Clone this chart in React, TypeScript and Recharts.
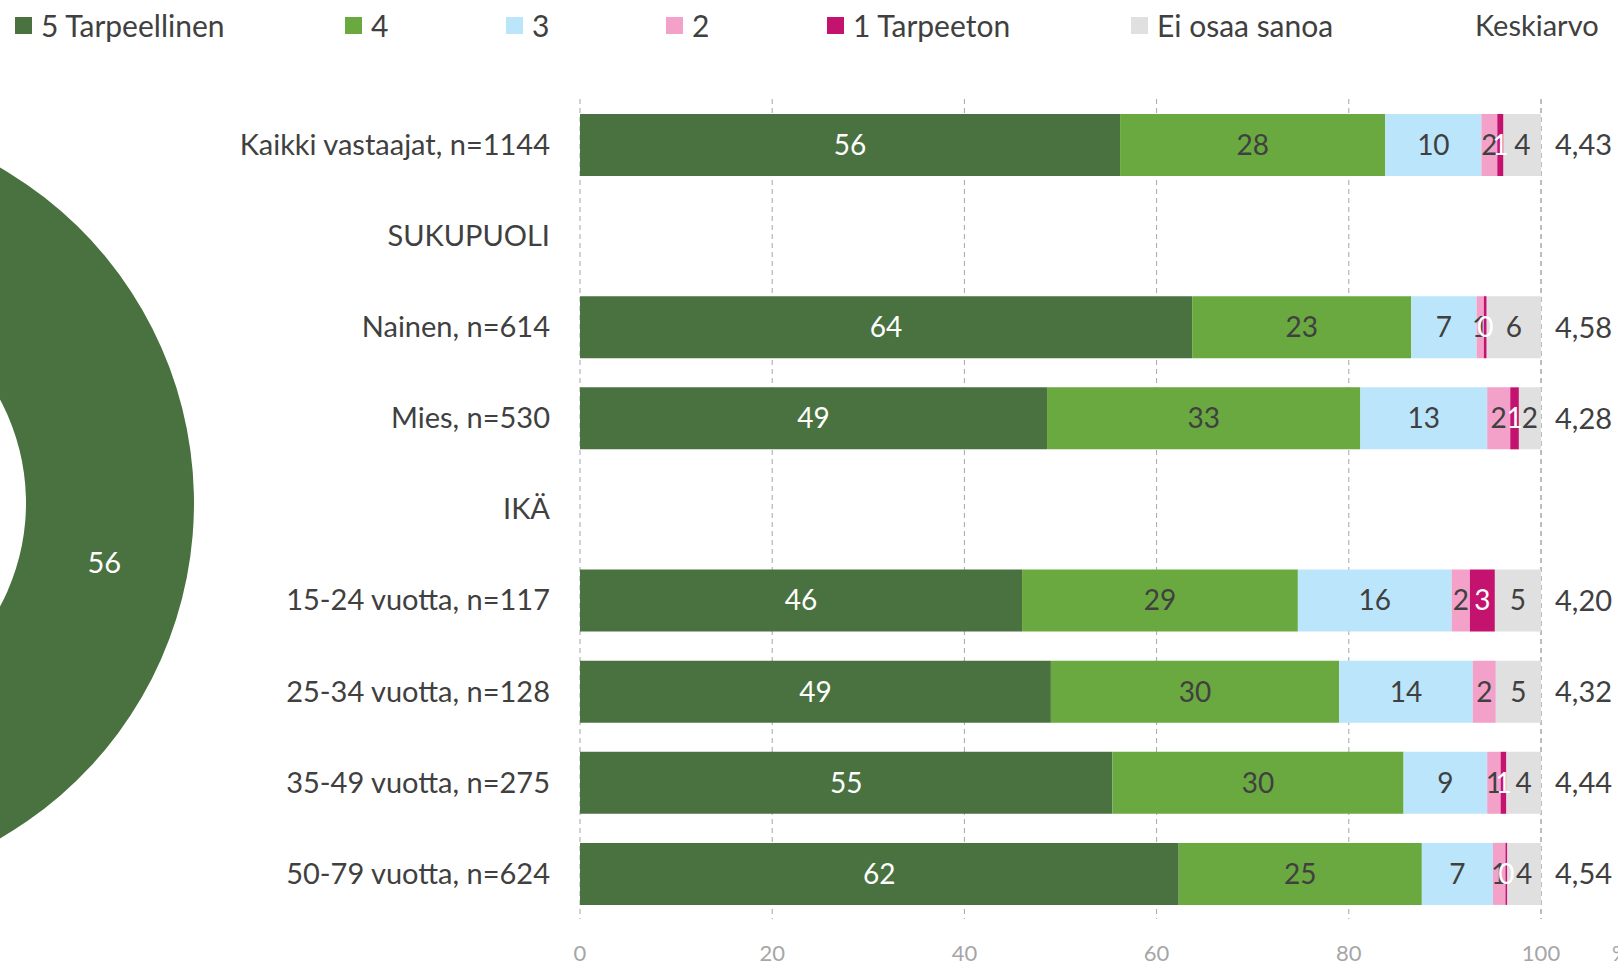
import {
  Bar,
  BarChart,
  CartesianGrid,
  Label,
  LabelList,
  Pie,
  PieChart,
  Cell,
  XAxis,
  YAxis,
} from "recharts";

const categories = [
  "Kaikki vastaajat, n=1144",
  "SUKUPUOLI",
  "Nainen, n=614",
  "Mies, n=530",
  "IKÄ",
  "15-24 vuotta, n=117",
  "25-34 vuotta, n=128",
  "35-49 vuotta, n=275",
  "50-79 vuotta, n=624",
];

// % shares (labels show them rounded)
const tarpeellinen = [56.2, null, 63.7, 48.6, null, 46.0, 49.0, 55.4, 62.3];
const nelja = [27.6, null, 22.8, 32.6, null, 28.7, 30.0, 30.3, 25.3];
const kolme = [10.0, null, 6.8, 13.2, null, 16.0, 13.9, 8.7, 7.4];
const kaksi = [1.65, null, 0.75, 2.4, null, 1.9, 2.4, 1.4, 1.3];
const tarpeeton = [0.65, null, 0.3, 0.9, null, 2.6, 0, 0.6, 0.2];
const eos = [3.9, null, 5.65, 2.3, null, 4.8, 4.7, 3.6, 3.5];
const keskiarvo = [4.43, null, 4.58, 4.28, null, 4.2, 4.32, 4.44, 4.54];

const xTicks = [0, 20, 40, 60, 80, 100];

const seriesKeys = ["s5", "s4", "s3", "s2", "s1", "eos"];
const seriesNames = ["5 Tarpeellinen", "4", "3", "2", "1 Tarpeeton", "Ei osaa sanoa"];
const seriesColors = ["#4a7240", "#6aa93f", "#bbe5fa", "#f3a1c9", "#c4126f", "#e0e0e0"];
const labelColors = ["#ffffff", "#404040", "#404040", "#404040", "#ffffff", "#404040"];
const seriesValues = [tarpeellinen, nelja, kolme, kaksi, tarpeeton, eos];

const rows = categories.map((name, i) => {
  const row: Record<string, any> = { name, mean: keskiarvo[i] };
  seriesKeys.forEach((k, j) => {
    row[k] = seriesValues[j][i];
  });
  return row;
});

// donut = "Kaikki vastaajat" row
const pieData = seriesNames.map((name, j) => ({ name, value: seriesValues[j][0] as number }));

const TEXT = "#404040";
const FONT = "Lato, 'Open Sans', sans-serif";
const RADIAN = Math.PI / 180;

const fmtShare = (v: any) => (v === null || v === undefined || v === 0 ? "" : String(Math.round(v)));
const fmtMean = (v: any) => (v === null || v === undefined ? "" : Number(v).toFixed(2).replace(".", ","));

function renderPieLabel(props: any) {
  const { cx, cy, midAngle, innerRadius, outerRadius, value } = props;
  const r = (innerRadius + outerRadius) / 2;
  const x = cx + r * Math.cos(-midAngle * RADIAN);
  const y = cy + r * Math.sin(-midAngle * RADIAN);
  // slices left of the page edge are off-screen anyway
  if (x < 20) return <g />;
  return (
    <text x={x} y={y} fill="#ffffff" fontSize={29} textAnchor="middle" dominantBaseline="central">
      {Math.round(value)}
    </text>
  );
}

function renderPercent(props: any) {
  const vb = props.viewBox;
  return (
    <text x={vb.x + vb.width + 71} y={vb.y + 33} fill="#a6a6a6" fontSize={22} dominantBaseline="central">
      %
    </text>
  );
}

const legendLeft = [15, 345, 506, 666, 827, 1131];

export default function App() {
  return (
    <div style={{ position: "absolute", left: 0, top: 0, width: 1618, height: 966, fontFamily: FONT, background: "#fff" }}>
      {/* Half-visible donut on the left */}
      <div style={{ position: "absolute", left: 0, top: 0 }}>
        <PieChart width={1618} height={966} margin={{ top: 0, right: 0, bottom: 0, left: 0 }}>
          <Pie
            data={pieData}
            dataKey="value"
            cx={-193}
            cy={503}
            innerRadius={219}
            outerRadius={387}
            startAngle={90}
            endAngle={-270}
            stroke="none"
            label={renderPieLabel}
            labelLine={false}
            isAnimationActive={false}
          >
            {pieData.map((d, j) => (
              <Cell key={d.name} fill={seriesColors[j]} />
            ))}
          </Pie>
        </PieChart>
      </div>

      {/* Stacked bars */}
      <div style={{ position: "absolute", left: 0, top: 0 }}>
        <BarChart
          width={1618}
          height={966}
          data={rows}
          layout="vertical"
          margin={{ top: 99, right: 77, bottom: 0, left: 0 }}
        >
          <CartesianGrid horizontal={false} stroke="#a6a6a6" strokeDasharray="5 4" />
          <XAxis
            type="number"
            domain={[0, 100]}
            ticks={xTicks}
            height={47}
            axisLine={false}
            tickLine={false}
            tickMargin={20}
            tick={{ fill: "#a6a6a6", fontSize: 22 }}
          >
            <Label content={renderPercent} />
          </XAxis>
          <YAxis
            type="category"
            dataKey="name"
            width={580}
            axisLine={false}
            tickLine={false}
            tickSize={6}
            tickMargin={24}
            tick={{ fill: TEXT, fontSize: 29 }}
            interval={0}
          />
          {seriesKeys.map((k, j) => (
            <Bar
              key={k}
              dataKey={k}
              name={seriesNames[j]}
              stackId="a"
              fill={seriesColors[j]}
              barSize={62}
              isAnimationActive={false}
            >
              <LabelList
                dataKey={k}
                position="center"
                fill={labelColors[j]}
                fontSize={28}
                formatter={fmtShare}
              />
              {k === "eos" && (
                <LabelList dataKey="mean" position="right" offset={14} fill={TEXT} fontSize={29} formatter={fmtMean} />
              )}
            </Bar>
          ))}
        </BarChart>
      </div>

      {/* Legend */}
      <div style={{ position: "absolute", left: 0, top: 0, width: 1618, height: 50 }}>
        {seriesNames.map((n, j) => (
          <div
            key={n}
            style={{
              position: "absolute",
              left: legendLeft[j],
              top: 8,
              height: 34,
              lineHeight: "34px",
              display: "flex",
              alignItems: "center",
              fontSize: 30,
              color: TEXT,
              whiteSpace: "nowrap",
            }}
          >
            <span style={{ display: "inline-block", width: 17, height: 17, background: seriesColors[j], marginRight: 9 }} />
            {n}
          </div>
        ))}
        <div style={{ position: "absolute", left: 1475, top: 8, height: 34, lineHeight: "34px", fontSize: 29, color: TEXT }}>
          Keskiarvo
        </div>
      </div>
    </div>
  );
}
